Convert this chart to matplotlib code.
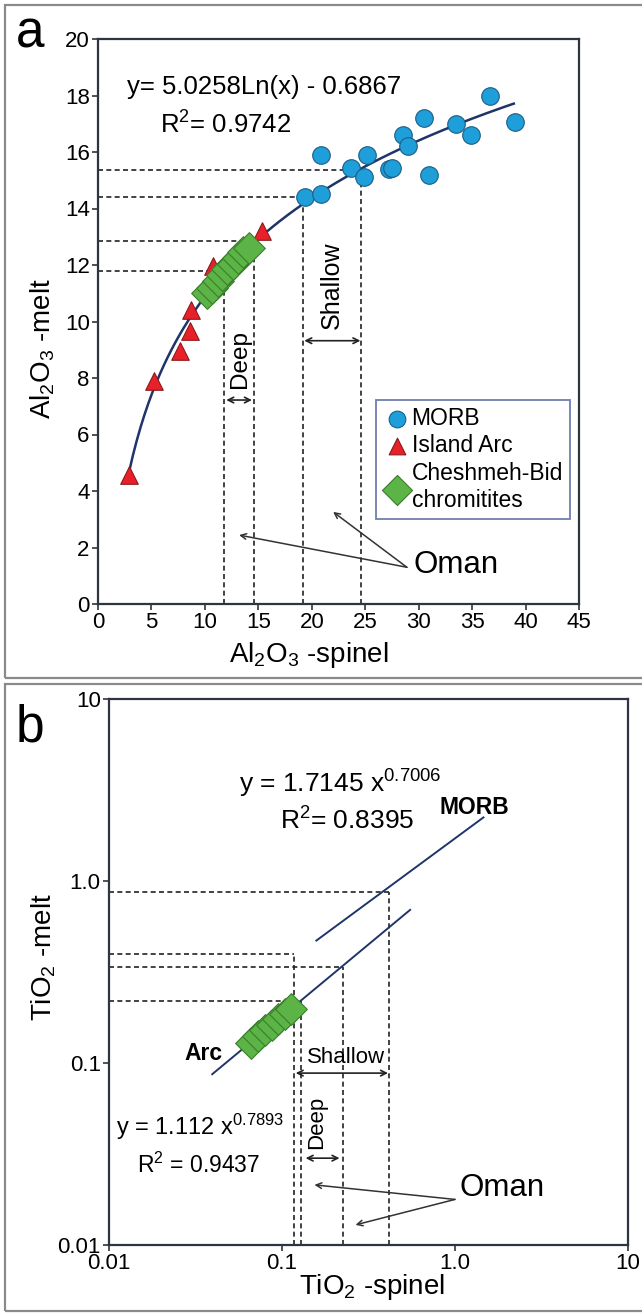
import numpy as np
import matplotlib
matplotlib.use("Agg")
import matplotlib.pyplot as plt
from matplotlib.patches import Rectangle

plt.rcParams['font.family'] = ['Liberation Sans', 'DejaVu Sans']
plt.rcParams['mathtext.fontset'] = 'custom'
plt.rcParams['mathtext.rm'] = 'Liberation Sans'
plt.rcParams['mathtext.it'] = 'Liberation Sans:italic'
plt.rcParams['mathtext.bf'] = 'Liberation Sans:bold'

# ---------------- data panel a ----------------
morb_x = [20.9, 19.4, 20.9, 23.7, 25.2, 24.9, 27.2, 27.5, 28.5, 29.0, 30.5, 31.0, 33.5, 34.9, 36.7, 39.0]
morb_y = [15.9, 14.4, 14.5, 15.45, 15.9, 15.1, 15.4, 15.45, 16.6, 16.2, 17.2, 15.2, 17.0, 16.6, 18.0, 17.05]
arc_x = [15.3, 10.75, 8.7, 8.65, 7.7, 5.2, 2.9]
arc_y = [13.2, 11.95, 10.4, 9.65, 8.95, 7.9, 4.55]
cb_x = [10.2, 10.7, 11.2, 11.6, 12.1, 12.6, 13.1, 13.6, 14.1]
cb_y = [11.0, 11.2, 11.45, 11.65, 11.85, 12.05, 12.25, 12.45, 12.6]
fit_a = (5.0258, -0.6867)
fit_a_range = (2.9, 38.9)
a_vlines = [11.8, 14.6, 19.2, 24.65]
a_hlines = [11.8, 12.85, 14.4, 15.35]
a_xticks = [0, 5, 10, 15, 20, 25, 30, 35, 40, 45]
a_yticks = [0, 2, 4, 6, 8, 10, 12, 14, 16, 18, 20]

# ---------------- data panel b ----------------
morb_fit = (1.7145, 0.7006)
morb_range = (0.158, 1.46)
arc_fit = (1.112, 0.7893)
arc_range = (0.0395, 0.55)
cb_b_x = [0.066, 0.073, 0.080, 0.087, 0.095, 0.104, 0.113]
cb_b_y = [0.129, 0.140, 0.151, 0.162, 0.174, 0.187, 0.199]
b_vlines = [0.1177, 0.1293, 0.2246, 0.417]
b_hlines = [0.395, 0.219, 0.336, 0.875]
b_ticks = [0.01, 0.1, 1.0, 10]
b_ticklabels = ['0.01', '0.1', '1.0', '10']

W, H = 642, 1313
fig = plt.figure(figsize=(W / 100, H / 100), dpi=100)

def fx(px):
    return px / W

def fy(py):
    return 1 - py / H

line_col = '#1f3569'
spine_col = '#2e3540'
dash = (0, (3, 2))
dash_col = '#222222'
TICK = 16

# panel borders
for (x0, y0, x1, y1) in [(5, 5, 700, 678), (5, 684, 700, 1311)]:
    fig.patches.append(Rectangle((fx(x0), fy(y1)), fx(x1 - x0), (y1 - y0) / H,
                                 transform=fig.transFigure, fill=False,
                                 edgecolor='#8a8a8a', lw=1.6))

# ================= panel a =================
axa = fig.add_axes([fx(98), fy(604), fx(579 - 98), (604 - 39) / H])
axa.set_xlim(0, 45)
axa.set_ylim(0, 20)
axa.set_xticks(a_xticks)
axa.set_yticks(a_yticks)
for s in axa.spines.values():
    s.set_color(spine_col)
    s.set_linewidth(1.6)
axa.tick_params(direction='out', length=4, width=1.2, color=spine_col,
                labelsize=TICK, pad=2)

for xv, yv in zip(a_vlines, a_hlines):
    axa.plot([xv, xv], [0, yv], ls=dash, color=dash_col, lw=1.2, zorder=1)
    axa.plot([0, xv], [yv, yv], ls=dash, color=dash_col, lw=1.2, zorder=1)

xc = np.linspace(*fit_a_range, 200)
axa.plot(xc, fit_a[0] * np.log(xc) + fit_a[1], color=line_col, lw=1.8, zorder=2)

axa.scatter(morb_x, morb_y, s=160, marker='o', facecolor='#1e9fd9',
            edgecolor='#1b5e86', lw=0.8, zorder=4, label='MORB')
axa.scatter(arc_x, arc_y, s=160, marker='^', facecolor='#e8202a',
            edgecolor='#8b1a1a', lw=0.8, zorder=3, label='Island Arc')
axa.scatter(cb_x, cb_y, s=260, marker='D', facecolor='#5bb445',
            edgecolor='#3a7d2c', lw=0.8, zorder=5,
            label='Cheshmeh-Bid\nchromitites')

axa.text(2.7, 18.3, 'y= 5.0258Ln(x) - 0.6867', fontsize=18.5, va='center')
axa.text(5.8, 16.95, r'R$^{\mathregular{2}}$= 0.9742', fontsize=18.5, va='center')

axa.text(21.85, 11.3, 'Shallow', rotation=90, fontsize=18, ha='center', va='center')
axa.annotate('', xy=(19.3, 9.32), xytext=(24.55, 9.32),
             arrowprops=dict(arrowstyle='<->', color='#222', lw=1.2,
                             shrinkA=0, shrinkB=0))
axa.text(13.25, 8.67, 'Deep', rotation=90, fontsize=17.5, ha='center', va='center')
axa.annotate('', xy=(12.0, 7.22), xytext=(14.4, 7.22),
             arrowprops=dict(arrowstyle='<->', color='#222', lw=1.2,
                             shrinkA=0, shrinkB=0))
axa.text(29.5, 1.38, 'Oman', fontsize=22.5, ha='left', va='center')
for tx, ty in [(13.2, 2.44), (22.0, 3.26)]:
    axa.annotate('', xy=(tx, ty), xytext=(28.9, 1.3),
                 arrowprops=dict(arrowstyle='->', color='#333', lw=1.1,
                                 shrinkA=0, shrinkB=0))

leg = axa.legend(loc='upper left', bbox_to_anchor=((376 - 98) / 481, (604 - 400) / 565),
                 fontsize=16.5, frameon=True, fancybox=False, handletextpad=0.05,
                 handlelength=1.2, borderpad=0.3, labelspacing=0.2,
                 borderaxespad=0, markerscale=0.95)
leg.get_frame().set_edgecolor('#4a5e9a')
leg.get_frame().set_linewidth(1.3)

fig.text(fx(309), fy(655), r'Al$_{\mathregular{2}}$O$_{\mathregular{3}}$ -spinel',
         fontsize=20, ha='center', va='center')
fig.text(fx(43), fy(349), r'Al$_{\mathregular{2}}$O$_{\mathregular{3}}$ -melt',
         fontsize=20, ha='center', va='center', rotation=90)
fig.text(fx(16), fy(48), 'a', fontsize=37, ha='left', va='baseline')

# ================= panel b =================
axb = fig.add_axes([fx(109), fy(1245), fx(628 - 109), (1245 - 699) / H])
axb.set_xscale('log')
axb.set_yscale('log')
axb.set_xlim(0.01, 10)
axb.set_ylim(0.01, 10)
axb.set_xticks(b_ticks)
axb.set_xticklabels(b_ticklabels)
axb.set_yticks(b_ticks)
axb.set_yticklabels(b_ticklabels)
axb.minorticks_off()
for s in axb.spines.values():
    s.set_color(spine_col)
    s.set_linewidth(1.6)
axb.tick_params(direction='out', length=4, width=1.2, color=spine_col,
                labelsize=TICK, pad=2)

for xv, yv in zip(b_vlines, b_hlines):
    axb.plot([xv, xv], [0.01, yv], ls=dash, color=dash_col, lw=1.2, zorder=1)
    axb.plot([0.01, xv], [yv, yv], ls=dash, color=dash_col, lw=1.2, zorder=1)

xm = np.logspace(np.log10(morb_range[0]), np.log10(morb_range[1]), 50)
axb.plot(xm, morb_fit[0] * xm ** morb_fit[1], color=line_col, lw=1.4, zorder=2)
xa = np.logspace(np.log10(arc_range[0]), np.log10(arc_range[1]), 50)
axb.plot(xa, arc_fit[0] * xa ** arc_fit[1], color=line_col, lw=1.4, zorder=2)

axb.scatter(cb_b_x, cb_b_y, s=260, marker='D', facecolor='#5bb445',
            edgecolor='#3a7d2c', lw=0.8, zorder=5)

axb.text(0.0563, 3.42, r'y = 1.7145 x$^{\mathregular{0.7006}}$', fontsize=19, va='center')
axb.text(0.0973, 2.14, r'R$^{\mathregular{2}}$= 0.8395', fontsize=19, va='center')
axb.text(1.30, 2.53, 'MORB', fontsize=16.5, fontweight='bold', ha='center', va='center')
axb.text(0.035, 0.113, 'Arc', fontsize=16.5, fontweight='bold', ha='center', va='center')
axb.text(0.011, 0.0444, r'y = 1.112 x$^{\mathregular{0.7893}}$', fontsize=17, va='center')
axb.text(0.0145, 0.0275, r'R$^{\mathregular{2}}$ = 0.9437', fontsize=16.5, va='center')

axb.text(0.233, 0.107, 'Shallow', fontsize=16, ha='center', va='center')
axb.annotate('', xy=(0.12, 0.088), xytext=(0.41, 0.088),
             arrowprops=dict(arrowstyle='<->', color='#222', lw=1.2,
                             shrinkA=0, shrinkB=0))
axb.text(0.158, 0.047, 'Deep', rotation=90, fontsize=16, ha='center', va='center')
axb.annotate('', xy=(0.137, 0.030), xytext=(0.215, 0.030),
             arrowprops=dict(arrowstyle='<->', color='#222', lw=1.2,
                             shrinkA=0, shrinkB=0))
axb.text(1.06, 0.0206, 'Oman', fontsize=22.5, ha='left', va='center')
for tx, ty in [(0.154, 0.0214), (0.266, 0.0129)]:
    axb.annotate('', xy=(tx, ty), xytext=(1.0, 0.0178),
                 arrowprops=dict(arrowstyle='->', color='#333', lw=1.1,
                                 shrinkA=0, shrinkB=0))

fig.text(fx(372), fy(1287), r'TiO$_{\mathregular{2}}$ -spinel',
         fontsize=20, ha='center', va='center')
fig.text(fx(44), fy(957), r'TiO$_{\mathregular{2}}$ -melt',
         fontsize=20, ha='center', va='center', rotation=90)
fig.text(fx(16), fy(742), 'b', fontsize=37, ha='left', va='baseline')

fig.savefig('out.png', dpi=100, facecolor='white')
